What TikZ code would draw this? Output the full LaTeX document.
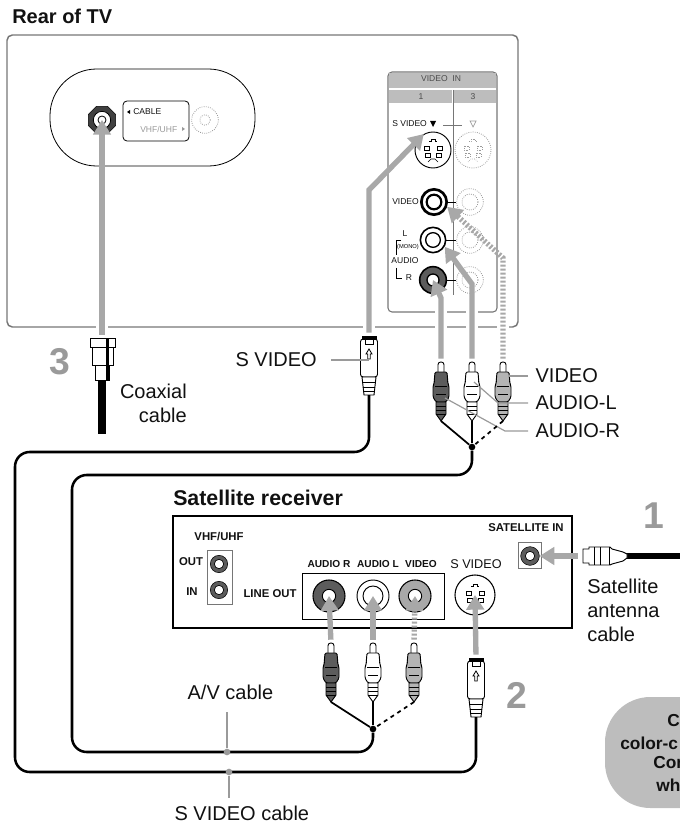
\documentclass[tikz,border=0pt]{standalone}
\usepackage{fontspec}
\setsansfont{Liberation Sans}
\usetikzlibrary{arrows.meta,positioning,calc,shapes.geometric}
\definecolor{ink}{HTML}{111111}
\definecolor{feedgray}{HTML}{A8A8A8}
\definecolor{framegray}{HTML}{767676}
\definecolor{hatch}{HTML}{BDBDBD}
\definecolor{dimgray}{HTML}{9A9A9A}
\definecolor{plugdark}{HTML}{5C5C5C}
\definecolor{pluglight}{HTML}{B4B4B4}
\newcommand{\labfont}{\fontsize{15}{18}\selectfont}
\newcommand{\tagfont}{\fontsize{8.5}{10}\selectfont}
\tikzset{
  rcaplug/.pic={
    \draw[fill=white, line width=.7pt, rounded corners=2pt] (-3,11) -- (-3,0) -- (3,0) -- (3,11);
    \draw[pic actions, line width=.7pt, rounded corners=1pt] (-6,10) -- (6,10) -- (7,22) -- (8,24) -- (8,35) -- (5,40) -- (-5,40) -- (-8,35) -- (-8,24) -- (-7,22) -- cycle;
    \draw[line width=.5pt] (-6,24) -- (6,24) (-5,32) -- (5,32);
    \draw[pic actions, line width=.7pt] (-5,40) -- (-5,52) -- (0,59) -- (5,52) -- (5,40) -- cycle;
    \draw[line width=.5pt] (-5,44) -- (5,44) (-5,48) -- (5,48) (-5,52) -- (5,52);
  },
  svplug/.pic={
    \draw[fill=white, line width=.7pt, rounded corners=2pt] (-8.5,3) -- (8.5,3) -- (8.5,41) -- (-8.5,41) -- cycle;
    \draw[fill=black] (-7,0) rectangle (7,3);
    \draw[fill=white, line width=.5pt] (-4,3) rectangle (4,8);
    \draw[line width=.6pt] (0,13) -- (3,18) -- (1.3,18) -- (1.3,23) -- (-1.3,23) -- (-1.3,18) -- (-3,18) -- cycle;
    \draw[fill=white, line width=.7pt] (-7,41) -- (7,41) -- (5,59) -- (-5,59) -- cycle;
    \draw[line width=.5pt] (-6.5,46) -- (6.5,46) (-6,51) -- (6,51) (-5.5,55) -- (5.5,55);
  },
  svjack/.pic={
    \draw[pic actions] (-4,-9) -- (-2,-9) -- (-2,-11) -- (2,-11) -- (2,-9) -- (4,-9);
    \draw[pic actions] (-9,-4) rectangle (-4,0) (4,-4) rectangle (9,0) (-8,3) rectangle (-3,7) (3,3) rectangle (8,7);
    \draw[pic actions] (-5,12) -- (-2,9) -- (2,9) -- (5,12);
  },
}
\begin{document}
\begin{tikzpicture}[
  x=.75pt, y=-.75pt,
  font=\sffamily,
  title/.style={font=\sffamily\bfseries\labfont, text=ink, inner sep=0pt, anchor=west},
  lab/.style={font=\sffamily\labfont, text=ink, anchor=west, inner sep=5.5pt},
  tag/.style={font=\sffamily\bfseries\tagfont, text=ink, inner sep=0pt},
  jacktag/.style={font=\sffamily\bfseries\fontsize{7.6}{9}\selectfont, text=ink, inner sep=0pt},
  tiny/.style={font=\sffamily\fontsize{6.4}{8}\selectfont, text=ink, inner sep=0pt},
  digit/.style={font=\sffamily\bfseries\fontsize{28}{30}\selectfont, text=dimgray, inner sep=0pt},
  note/.style={font=\sffamily\bfseries\fontsize{13}{16}\selectfont, text=ink, inner sep=0pt, anchor=west},
  jack/.style={circle, draw=black, fill=white, inner sep=0pt},
  ghost/.style={circle, draw=dimgray, fill=white, densely dotted, inner sep=0pt, line width=.6pt},
  feed/.style={draw=feedgray, line width=4pt, shorten <=2.5pt, -{Triangle[length=11pt,width=13pt,fill=feedgray]}},
  feeddash/.style={feed, dash pattern=on 1.6pt off 1.4pt},
  leader/.style={draw=dimgray, line width=.9pt},
  tick/.style={draw=dimgray, line width=2pt},
  tickdot/.style={circle, fill=dimgray, inner sep=0pt, minimum size=5pt},
  cable/.style={draw=black, line width=1.9pt, rounded corners=11pt},
  wire/.style={draw=black, line width=1.3pt},
  merge/.style={circle, fill=black, inner sep=0pt, minimum size=5pt},
]
\useasboundingbox (0,0) rectangle (680,823);

\node[title] (rear) at (12,16) {Rear of TV};
\draw[draw=framegray, line width=1.1pt, rounded corners=4pt] (7,35) rectangle (518,327);

% antenna plate
\draw[line width=.6pt, rounded corners=35pt] (50,69) rectangle (255,166);
\node[draw=black, regular polygon, regular polygon sides=8, fill=black!75, minimum size=22pt, inner sep=0pt] (tvCoax) at (102,120) {};
\node[jack, minimum size=13pt, line width=.6pt] (tvCoaxIn) at (tvCoax) {};
\node[jack, minimum size=6pt, line width=.6pt] at (tvCoax) {};
\draw[line width=.6pt, rounded corners=3pt] (123,101) rectangle (189,141);
\fill (127,112) -- (130,110) -- (130,114) -- cycle;
\node[tiny, anchor=west] (tvCable) at (133,112) {CABLE};
\node[tiny, anchor=west, text=dimgray] (tvVhf) at (140,129) {VHF/UHF};
\fill[dimgray] (185,129) -- (182,127) -- (182,131) -- cycle;
\node[ghost, minimum size=20pt] (tvCoaxB) at (205,120) {};
\node[ghost, minimum size=8pt] at (tvCoaxB) {};

% video in panel
\draw[draw=framegray, line width=.8pt, rounded corners=3pt] (388,72) rectangle (497,312);
\fill[hatch] (389,73) rectangle (496,88);
\fill[hatch] (389,90) rectangle (452,103);
\fill[hatch] (454,90) rectangle (496,103);
\draw[draw=framegray, line width=.7pt] (453,90) -- (453,295);
\node[tiny, text=black!70] (tvVideoIn) at (441,79) {VIDEO\ \ IN};
\node[tiny, text=black!70] (tvOne) at (421,97) {1};
\node[tiny, text=black!70] (tvThree) at (473,97) {3};
\node[tiny, anchor=west] (tvSLab) at (392,124) {S VIDEO};
\fill (430,121) -- (436,121) -- (433,127) -- cycle;
\draw[draw=framegray, line width=.6pt] (443,125) -- (462,125);
\draw[draw=dimgray, line width=.5pt] (470,121) -- (476,121) -- (473,127) -- cycle;
\node[tiny, anchor=west] (tvVLab) at (392,202) {VIDEO};
\node[tiny] (tvLLab) at (405,234) {L};
\node[font=\sffamily\fontsize{4.3}{5}\selectfont, inner sep=0pt] (tvMono) at (408,247) {(MONO)};
\node[tiny] (tvALab) at (405,261) {AUDIO};
\node[tiny] (tvRLab) at (409,278) {R};
\draw[line width=.5pt] (401,240) -- (396,240) -- (396,255);
\draw[line width=.5pt] (396,268) -- (396,278) -- (402,278);

\node[jack, minimum size=27pt, line width=.7pt] (tvS) at (433,150) {};
\pic[draw=black, line width=.5pt] at (tvS) {svjack};
\node[ghost, minimum size=27pt] (tvSb) at (473,150) {};
\pic[draw=dimgray, line width=.4pt, densely dotted] at (tvSb) {svjack};

\foreach \jname/\jy in {tvVb/202,tvLb/240,tvRb/280} {
  \node[ghost, minimum size=20pt] (\jname) at (470,\jy) {};
  \node[ghost, minimum size=12pt] at (\jname) {};
}
\draw[line width=.6pt] (433,202) -- (tvVb.west) (433,240) -- (tvLb.west) (433,280) -- (tvRb.west);
\node[jack, minimum size=19pt, line width=2pt] (tvV) at (434,202) {};
\node[jack, minimum size=11pt, line width=1.6pt] at (tvV) {};
\node[jack, minimum size=19pt, line width=1.2pt] (tvL) at (433,240) {};
\node[jack, minimum size=11pt, line width=1pt] at (tvL) {};
\node[jack, fill=plugdark, minimum size=20pt, line width=1.2pt] (tvR) at (433,280) {};
\node[jack, minimum size=9pt, line width=1pt] at (tvR) {};

% tv side plugs
\coordinate (plugTvR) at (441,362);
\coordinate (plugTvL) at (472,362);
\coordinate (plugTvV) at (503,362);
\coordinate (plugTvS) at (369,336);
\coordinate (plugTvC) at (102,338);
\foreach \gx in {102,369,441,472,503} \fill[white] (\gx-6,322) rectangle (\gx+6,332);
\foreach \gx in {441,472} \fill[white] (\gx-6,307) rectangle (\gx+6,317);
\draw[feed] (plugTvC) -- (tvCoax.center);
\draw[feed] (plugTvS) -- ++(0,-146) -- (tvS.120);
\draw[feed] (plugTvR) -- ++(0,-64) -- (tvR.center);
\draw[feed] (plugTvL) -- ++(0,-78) -- (tvL.-30);
\draw[feeddash] (plugTvV) -- ++(0,-104) -- (tvV.-20);
\pic[fill=plugdark] at (plugTvR) {rcaplug};
\pic[fill=white] at (plugTvL) {rcaplug};
\pic[fill=pluglight] at (plugTvV) {rcaplug};
\pic at (plugTvS) {svplug};

% coaxial plug
\draw[fill=white, line width=.7pt] (90,338) rectangle (115,347);
\draw[fill=white, line width=.7pt] (92,347) rectangle (113,365);
\draw[fill=white, line width=.7pt] (95,365) rectangle (109,380);
\fill (106,338) rectangle (109,380);
\coordinate (coaxEnd) at (102,434);
\draw[draw=black, line width=6pt] (102,380) -- (coaxEnd);

\node[digit] (three) at (60,362) {3};
\node[lab, align=right, anchor=north east, inner sep=0pt] (coaxLab) at (187,384) {Coaxial\\cable};
\node[lab] (svLab) at (228,360) {S VIDEO};
\draw[leader, shorten <=5pt] (svLab.east) -- ($(plugTvS)+(0,24)$);

\node[lab] (vidLab) at (528,376) {VIDEO};
\node[lab] (audLLab) at (528,403) {AUDIO-L};
\node[lab] (audRLab) at (528,431) {AUDIO-R};
\draw[leader] (vidLab.west) -- ($(plugTvV)+(6,14)$);
\draw[leader] (audLLab.west) -- ++(-30,0) -- ($(plugTvL)+(2,20)$);
\draw[leader] (audRLab.west) -- ++(-23,0) -- ($(plugTvR)+(4,36)$);

% receiver
\node[title, font=\sffamily\bfseries\fontsize{16}{18}\selectfont] (rxTitle) at (173,498) {Satellite receiver};
\draw[line width=1pt] (173,516) rectangle (572,628);
\node[tag] (rxVhf) at (219,537) {VHF/UHF};
\draw[draw=framegray, line width=.6pt] (207,550) rectangle (232,604);
\node[tag] (rxOut) at (191,562) {OUT};
\node[tag] (rxIn) at (192,592) {IN};
\node[tag] (rxLine) at (270,594) {LINE OUT};
\foreach \cname/\cy in {rxCoaxA/564,rxCoaxB/590} {
  \node[jack, fill=plugdark, minimum size=13pt] (\cname) at (219,\cy) {};
  \node[jack, minimum size=7pt, line width=.5pt] at (\cname) {};
}
\draw[draw=black, line width=.6pt] (302,573) rectangle (444,619);
\node[jacktag] (rxAudR) at (329,564) {AUDIO R};
\node[jacktag] (rxAudL) at (378,564) {AUDIO L};
\node[jacktag] (rxVid) at (421,564) {VIDEO};
\node[font=\sffamily\fontsize{9.5}{11}\selectfont, text=ink, inner sep=0pt] (rxSLab) at (476,564) {S VIDEO};
\node[jack, fill=plugdark, minimum size=24pt, line width=.8pt] (rxR) at (329,596) {};
\node[jack, minimum size=10pt, line width=.7pt] at (rxR) {};
\node[jack, minimum size=24pt, line width=.7pt] (rxL) at (373,596) {};
\node[jack, minimum size=15pt, line width=.7pt] at (rxL) {};
\node[jack, fill=feedgray, minimum size=24pt, line width=.8pt] (rxV) at (415,596) {};
\node[jack, minimum size=10pt, line width=.7pt] at (rxV) {};
\node[jack, minimum size=30pt, line width=.8pt] (rxS) at (475,595) {};
\pic[draw=black, line width=.6pt] at (rxS) {svjack};

\node[tag] (rxSatLab) at (526,528) {SATELLITE IN};
\draw[draw=framegray, line width=.6pt] (518,542) rectangle (541,568);
\node[jack, fill=plugdark, minimum size=14pt] (rxSat) at (530,556) {};
\node[jack, minimum size=7pt, line width=.5pt] at (rxSat) {};

% satellite feed
\coordinate (plugSat) at (581,556);
\coordinate (satEnd) at (680,556);
\draw[feed] (plugSat) -- (rxSat.east);
\draw[draw=black, line width=4.5pt] (620,556) -- (satEnd);
\draw[fill=white, line width=.7pt] (583,549) -- (589,549) -- (589,547) -- (610,547) -- (612,549) -- (623,552) -- (627,554) -- (627,558) -- (623,561) -- (612,564) -- (610,565) -- (589,565) -- (589,563) -- (583,563) -- cycle;
\draw[line width=.6pt] (594,547) -- (594,565) (600,547) -- (600,565) (609,547) -- (609,565);
\node[digit] (one) at (654,516) {1};
\node[lab, align=left, anchor=north west, inner sep=0pt] (satLab) at (587,579) {Satellite\\antenna\\cable};

% receiver side plugs
\coordinate (plugRxR) at (331,643);
\coordinate (plugRxL) at (373,643);
\coordinate (plugRxV) at (414,643);
\coordinate (plugRxS) at (476,658);
\draw[feed] (plugRxR) -- (rxR.center);
\draw[feed] (plugRxL) -- (rxL.center);
\draw[feeddash] (plugRxV) -- (rxV.center);
\draw[feed] (plugRxS) -- (rxS.center);
\pic[fill=plugdark] at (plugRxR) {rcaplug};
\pic[fill=white] at (plugRxL) {rcaplug};
\pic[fill=pluglight] at (plugRxV) {rcaplug};
\pic at (plugRxS) {svplug};
\node[digit] (two) at (517,695) {2};

% cables
\node[merge] (tvMerge) at (472,447) {};
\node[merge] (rxMerge) at (373,729) {};
\draw[wire] ($(plugTvR)+(0,59)$) -- (tvMerge);
\draw[wire] ($(plugTvL)+(0,59)$) -- (tvMerge);
\draw[wire, dashed] ($(plugTvV)+(0,59)$) -- (tvMerge);
\draw[wire] ($(plugRxR)+(0,59)$) -- (rxMerge);
\draw[wire] ($(plugRxL)+(0,59)$) -- (rxMerge);
\draw[wire, dashed] ($(plugRxV)+(0,59)$) -- (rxMerge);
\coordinate (avNear) at (72,475);
\coordinate (avFar) at (72,752);
\coordinate (svNear) at (15,452);
\coordinate (svFar) at (15,772);
\draw[cable] (tvMerge) |- (avNear) -- (avFar) -| (rxMerge);
\draw[cable] ($(plugTvS)+(0,59)$) |- (svNear) -- (svFar) -| ($(plugRxS)+(0,59)$);

\node[lab] (avLab) at (180,692) {A/V cable};
\node[lab] (svCableLab) at (167,813) {S VIDEO cable};
\node[tickdot] (avTick) at (227,752) {};
\node[tickdot] (svTick) at (229,772) {};
\draw[tick, shorten >=4pt] (avTick) -- (avTick |- avLab.south);
\draw[tick] (svTick) -- (svTick |- svCableLab.north);

% note bubble
\begin{scope}
  \clip (0,0) rectangle (680,823);
  \fill[hatch, rounded corners=34pt] (605,697) rectangle (740,808);
  \node[note] (noteA) at (667,721) {C};
  \node[note] (noteB) at (620,743) {color-c};
  \node[note] (noteC) at (653,763) {Con};
  \node[note] (noteD) at (656,785) {wh};
\end{scope}
\end{tikzpicture}
\end{document}
